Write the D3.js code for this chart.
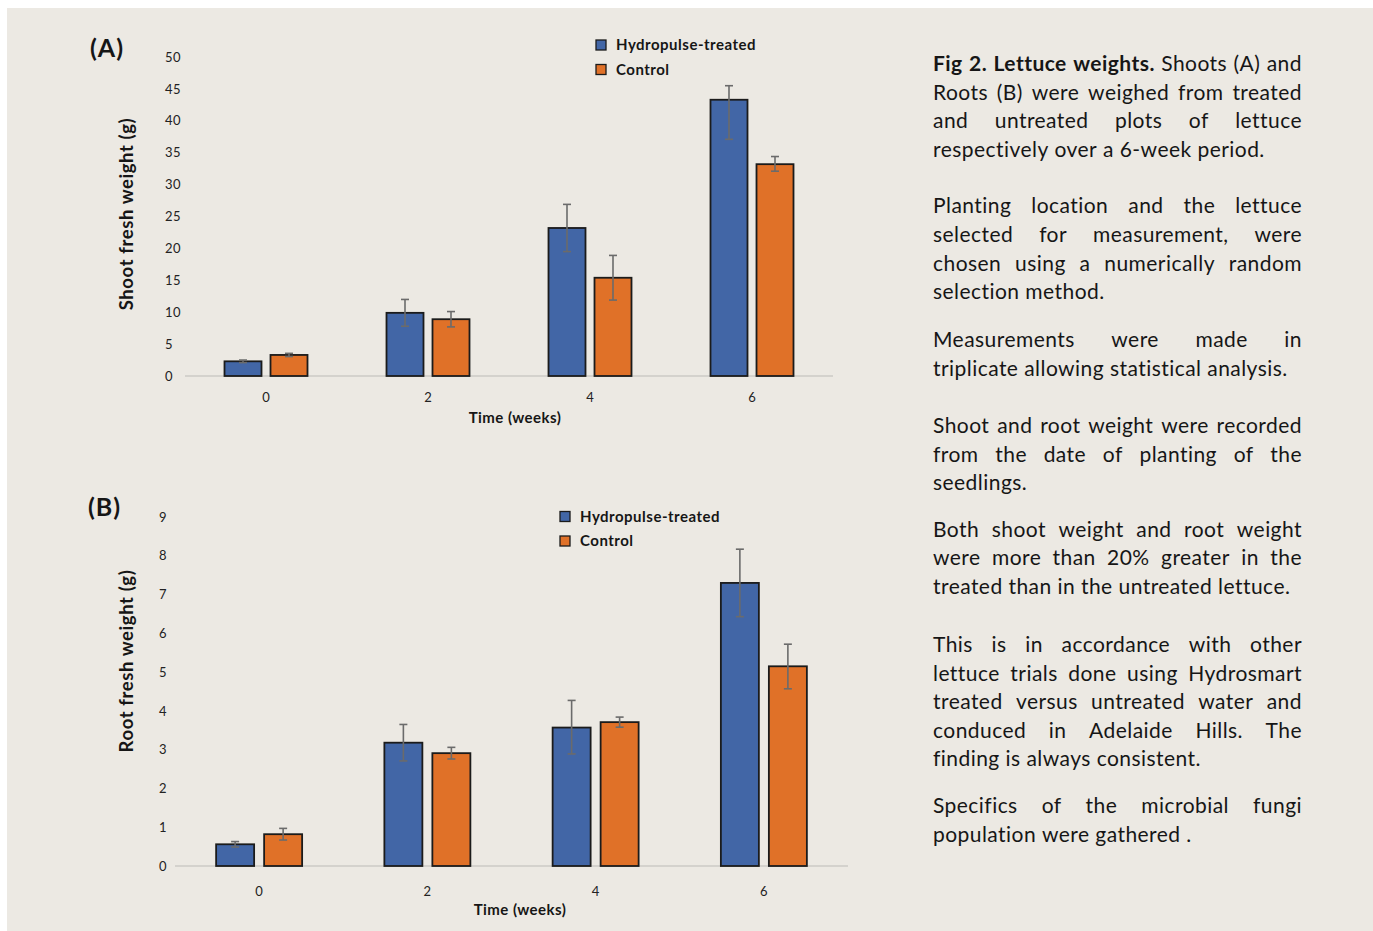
<!DOCTYPE html>
<html>
<head>
<meta charset="utf-8">
<script src="https://cdn.jsdelivr.net/npm/d3@7"></script>
<style>
  html, body { margin: 0; padding: 0; background: #ffffff; }
  svg { display: block; }
  text { font-family: Lato, "Open Sans", sans-serif; }
</style>
</head>
<body>
<svg id="fig" width="1373" height="931"></svg>
<script>
// ---- data ----
const weeks = ["0", "2", "4", "6"];
const seriesNames = ["Hydropulse-treated", "Control"];

// Shoot fresh weight (g)
const shootTreated = [2.3, 9.9, 23.2, 43.3];
const shootTreatedErrUp = [0.2, 2.1, 3.7, 2.2];
const shootTreatedErrDown = [0.2, 2.1, 3.7, 6.2];
const shootControl = [3.3, 8.9, 15.4, 33.2];
const shootControlErrUp = [0.25, 1.2, 3.5, 1.2];
const shootControlErrDown = [0.25, 1.2, 3.5, 1.1];
const shootTicks = [0, 5, 10, 15, 20, 25, 30, 35, 40, 45, 50];

// Root fresh weight (g)
const rootTreated = [0.56, 3.18, 3.57, 7.3];
const rootTreatedErrUp = [0.07, 0.47, 0.7, 0.87];
const rootTreatedErrDown = [0.07, 0.47, 0.68, 0.87];
const rootControl = [0.82, 2.91, 3.71, 5.15];
const rootControlErrUp = [0.15, 0.15, 0.13, 0.57];
const rootControlErrDown = [0.15, 0.15, 0.13, 0.58];
const rootTicks = [0, 1, 2, 3, 4, 5, 6, 7, 8, 9];

// caption paragraphs, one string per printed line
const captionLead = "Fig 2. Lettuce weights.";
const paragraphs = [
  ["Fig 2. Lettuce weights. Shoots (A) and",
   "Roots (B) were weighed from treated",
   "and untreated plots of lettuce",
   "respectively over a 6-week period."],
  ["Planting location and the lettuce",
   "selected for measurement, were",
   "chosen using a numerically random",
   "selection method."],
  ["Measurements were made in",
   "triplicate allowing statistical analysis."],
  ["Shoot and root weight were recorded",
   "from the date of planting of the",
   "seedlings."],
  ["Both shoot weight and root weight",
   "were more than 20% greater in the",
   "treated than in the untreated lettuce."],
  ["This is in accordance with other",
   "lettuce trials done using Hydrosmart",
   "treated versus untreated water and",
   "conduced in Adelaide Hills. The",
   "finding is always consistent."],
  ["Specifics of the microbial fungi",
   "population were gathered ."]
];
const paragraphBaselines = [
  [71, 99.5, 128, 157],
  [213, 242, 270.5, 299],
  [347, 375.5],
  [433, 461.5, 490],
  [537, 565, 593.5],
  [652, 680.5, 709, 737.5, 766],
  [813, 841.5]
];

// ---- styles ----
const BLUE = "#4266a6";
const ORANGE = "#e07128";
const INK = "#161616";

const svg = d3.select("#fig");
svg.append("rect").attr("x", 7).attr("y", 8).attr("width", 1366).attr("height", 923)
  .attr("fill", "#ece9e3");

function drawPanel(cfg) {
  const g = svg.append("g");
  const x = d3.scaleBand().domain(weeks).range([cfg.left, cfg.right]);
  const x1 = d3.scaleBand().domain(seriesNames)
    .range([-cfg.half, cfg.half]).paddingInner(cfg.gap / (cfg.barW + cfg.gap));
  const y = d3.scaleLinear().domain(cfg.domain).range([cfg.base, cfg.top]);
  const colors = d3.scaleOrdinal().domain(seriesNames).range([BLUE, ORANGE]);

  // y tick labels (left aligned, no axis line)
  const yAxis = d3.axisLeft(y).tickValues(cfg.ticks).tickSize(0).tickPadding(0);
  const ya = g.append("g").attr("transform", `translate(${cfg.yLabelX},0)`).call(yAxis);
  ya.select(".domain").remove();
  ya.selectAll("text").attr("text-anchor", "start").attr("x", 0)
    .attr("font-size", 13).attr("letter-spacing", 0.4)
    .attr("fill", "#222").attr("font-family", "Lato, sans-serif");

  // baseline
  g.append("line").attr("x1", cfg.left).attr("x2", cfg.right)
    .attr("y1", y(0)).attr("y2", y(0)).attr("stroke", "#d4d2cd").attr("stroke-width", 2);

  // x tick labels
  const xAxis = d3.axisBottom(x).tickSize(0).tickPadding(0);
  const xa = g.append("g").attr("transform", `translate(0,${cfg.xLabelY})`).call(xAxis);
  xa.select(".domain").remove();
  xa.selectAll("text").attr("dy", "0.35em").attr("y", 0)
    .attr("font-size", 13).attr("fill", "#222").attr("font-family", "Lato, sans-serif");

  const rows = [];
  weeks.forEach((w, i) => {
    cfg.series.forEach(s => {
      rows.push({ week: w, name: s.name, v: s.values[i], up: s.errUp[i], down: s.errDown[i] });
    });
  });

  const grp = g.append("g");
  grp.selectAll("rect.bar").data(rows).join("rect")
    .attr("class", "bar")
    .attr("x", d => x(d.week) + x.bandwidth() / 2 + x1(d.name))
    .attr("width", x1.bandwidth())
    .attr("y", d => y(d.v))
    .attr("height", d => y(0) - y(d.v))
    .attr("fill", d => colors(d.name))
    .attr("stroke", "#1b1b1b").attr("stroke-width", 1.8);

  // error bars
  const cx = d => x(d.week) + x.bandwidth() / 2 + x1(d.name) + x1.bandwidth() / 2;
  const eb = grp.selectAll("g.err").data(rows).join("g").attr("class", "err")
    .attr("stroke", "#6b6b6b").attr("stroke-width", 1.6);
  eb.append("line").attr("x1", cx).attr("x2", cx)
    .attr("y1", d => y(d.v + d.up)).attr("y2", d => y(d.v - d.down));
  eb.append("line").attr("x1", d => cx(d) - 4).attr("x2", d => cx(d) + 4)
    .attr("y1", d => y(d.v + d.up)).attr("y2", d => y(d.v + d.up));
  eb.append("line").attr("x1", d => cx(d) - 4).attr("x2", d => cx(d) + 4)
    .attr("y1", d => y(d.v - d.down)).attr("y2", d => y(d.v - d.down));

  // axis titles
  g.append("text").attr("x", cfg.xTitleX).attr("y", cfg.xTitleY).attr("dy", "0.35em")
    .attr("text-anchor", "middle").attr("font-size", 15).attr("letter-spacing", 0.45)
    .attr("font-weight", 700).attr("fill", INK).text("Time (weeks)");
  g.append("text")
    .attr("transform", `translate(${cfg.yTitleX},${cfg.yTitleY}) rotate(-90)`)
    .attr("dy", "0.35em").attr("text-anchor", "middle")
    .attr("font-size", 18.5).attr("letter-spacing", 0.6)
    .attr("font-weight", 700).attr("fill", INK).text(cfg.yTitle);

  // panel tag
  g.append("text").attr("x", cfg.tagX).attr("y", cfg.tagY)
    .attr("font-size", 25).attr("letter-spacing", 1).attr("font-weight", 700)
    .attr("fill", INK).text(cfg.tag);

  // legend
  const lg = g.append("g").attr("transform", `translate(${cfg.legendX},${cfg.legendY})`);
  const item = lg.selectAll("g").data(seriesNames).join("g")
    .attr("transform", (d, i) => `translate(0,${i * 24.5})`);
  item.append("rect").attr("x", 0).attr("y", -5).attr("width", 10).attr("height", 10)
    .attr("fill", d => colors(d)).attr("stroke", "#1b1b1b").attr("stroke-width", 1.3);
  item.append("text").attr("x", 20).attr("y", 0).attr("dy", "0.35em")
    .attr("font-size", 15).attr("letter-spacing", 0.5)
    .attr("font-weight", 700).attr("fill", INK).text(d => d);
}

drawPanel({
  left: 185, right: 833, half: 41.5, barW: 37, gap: 9,
  domain: [0, 50], base: 376, top: 57, ticks: shootTicks,
  yLabelX: 165, xLabelY: 397.5, xTitleX: 515, xTitleY: 418,
  yTitleX: 127, yTitleY: 214, yTitle: "Shoot fresh weight (g)",
  tag: "(A)", tagX: 90, tagY: 57,
  legendX: 596, legendY: 45,
  series: [
    { name: seriesNames[0], values: shootTreated, errUp: shootTreatedErrUp, errDown: shootTreatedErrDown },
    { name: seriesNames[1], values: shootControl, errUp: shootControlErrUp, errDown: shootControlErrDown }
  ]
});

drawPanel({
  left: 175, right: 848, half: 43, barW: 38, gap: 10,
  domain: [0, 9], base: 866, top: 517, ticks: rootTicks,
  yLabelX: 159, xLabelY: 891, xTitleX: 520, xTitleY: 910,
  yTitleX: 127, yTitleY: 661, yTitle: "Root fresh weight (g)",
  tag: "(B)", tagX: 88, tagY: 516,
  legendX: 560, legendY: 516.5,
  series: [
    { name: seriesNames[0], values: rootTreated, errUp: rootTreatedErrUp, errDown: rootTreatedErrDown },
    { name: seriesNames[1], values: rootControl, errUp: rootControlErrUp, errDown: rootControlErrDown }
  ]
});

// ---- justified caption ----
const TX0 = 933, TX1 = 1302, FS = 21, LS = 0.45;
const cap = svg.append("g").attr("fill", INK).attr("font-size", FS).attr("letter-spacing", LS);
const leadCount = captionLead.split(" ").length;
const measure = cap.append("text").attr("x", -1000).attr("y", -1000);
function wordWidth(w, bold) {
  measure.attr("font-weight", bold ? 700 : 400).text(w);
  return measure.node().getComputedTextLength();
}
measure.attr("font-weight", 400).text("a a");
const spaceW = measure.node().getComputedTextLength() - 2 * wordWidth("a", false);

paragraphs.forEach((lines, pi) => {
  lines.forEach((line, li) => {
    const words = line.split(" ");
    const bolds = words.map((w, wi) => pi === 0 && li === 0 && wi < leadCount);
    const widths = words.map((w, wi) => wordWidth(w, bolds[wi]));
    const total = d3.sum(widths);
    const last = li === lines.length - 1;
    const gap = (last || words.length < 2) ? spaceW : (TX1 - TX0 - total) / (words.length - 1);
    let xpos = TX0;
    words.forEach((w, wi) => {
      cap.append("text").attr("x", xpos).attr("y", paragraphBaselines[pi][li])
        .attr("font-weight", bolds[wi] ? 700 : 400).text(w);
      xpos += widths[wi] + gap;
    });
  });
});
measure.remove();
</script>
</body>
</html>
